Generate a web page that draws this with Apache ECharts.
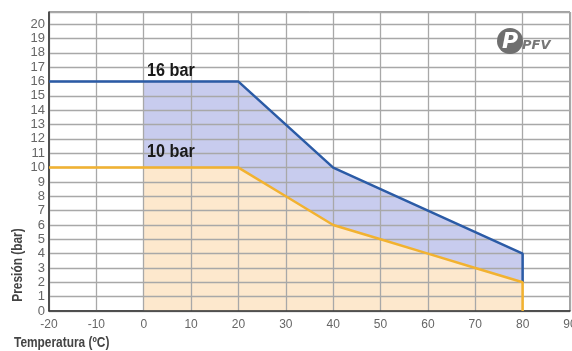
<!DOCTYPE html>
<html><head><meta charset="utf-8">
<script src="https://cdn.jsdelivr.net/npm/echarts@6/dist/echarts.min.js"></script>
<style>html,body{margin:0;padding:0;background:#fff}#c{width:572px;height:351px}</style>
</head><body><div id="c"></div>
<script>
var temps = [-20, 0, 20, 30, 40, 50, 60, 70, 80];
var p16 = [16, 16, 16, 13, 10, 8.5, 7, 5.5, 4];
var p10 = [10, 10, 10, 8, 6, 5, 4, 3, 2];
var xTicks = [-20, -10, 0, 10, 20, 30, 40, 50, 60, 70, 80, 90];
var yTicks = [0,1,2,3,4,5,6,7,8,9,10,11,12,13,14,15,16,17,18,19,20];
var labels = ['16 bar', '10 bar'];

var font = '"Liberation Sans",Arial,sans-serif';
function pts(xs, ys, from) { var r = []; for (var i = from; i < xs.length; i++) r.push([xs[i], ys[i]]); return r; }
var last = temps.length - 1;
var line16 = pts(temps, p16, 0); line16.push([temps[last], p10[last]]);
var line10 = pts(temps, p10, 0); line10.push([temps[last], 0]);
var fill16 = pts(temps, p16, 1);
var fill10 = pts(temps, p10, 1);

var chart = echarts.init(document.getElementById('c'));
chart.setOption({
  animation: false,
  grid: { left: 49, top: 12, right: 2, bottom: 40, show: true, borderColor: '#444', borderWidth: 1,
          outerBoundsMode: 'none', containLabel: false },
  xAxis: {
    type: 'value', min: xTicks[0], max: xTicks[xTicks.length - 1], interval: 10, z: 3,
    axisLine: { onZero: false, lineStyle: { color: '#333', width: 1.5 } },
    axisTick: { show: false },
    splitLine: { lineStyle: { color: '#a8a8a8', width: 1.3 } },
    axisLabel: { color: '#666', fontFamily: font, fontSize: 12, margin: 8, hideOverlap: false }
  },
  yAxis: {
    type: 'value', min: 0, max: 20.85, interval: 1, z: 3,
    axisLine: { show: true, onZero: false, lineStyle: { color: '#333', width: 1.5 } },
    axisTick: { show: false },
    splitLine: { lineStyle: { color: '#a8a8a8', width: 1.3 } },
    axisLabel: { color: '#666', fontFamily: font, fontSize: 13, margin: 4, lineHeight: 11, hideOverlap: false,
      formatter: function (v) { return (yTicks.indexOf(v) >= 0) ? String(v) : ''; } }
  },
  series: [
    { type: 'line', data: fill16, symbol: 'none', z: 1, lineStyle: { width: 0 },
      areaStyle: { color: '#c8ccee', opacity: 1 } },
    { type: 'line', data: fill10, symbol: 'none', z: 1.5, lineStyle: { width: 0 },
      areaStyle: { color: '#fde8cd', opacity: 1 } },
    { type: 'line', data: line16, symbol: 'none', z: 5, lineStyle: { color: '#2b5ba6', width: 2.5 } },
    { type: 'line', data: line10, symbol: 'none', z: 5, lineStyle: { color: '#f2b230', width: 2.5 } }
  ],
  graphic: [
    { type: 'text', x: 147, y: 71, scaleX: 0.9, z: 10, style: { text: labels[0], font: 'bold 18px ' + font, fill: '#1a1a1a', verticalAlign: 'middle' } },
    { type: 'text', x: 147, y: 152, scaleX: 0.9, z: 10, style: { text: labels[1], font: 'bold 18px ' + font, fill: '#1a1a1a', verticalAlign: 'middle' } },
    { type: 'text', x: 18, y: 265, rotation: Math.PI / 2, scaleX: 0.85, z: 10,
      style: { text: 'Presión (bar)', font: 'bold 14px ' + font, fill: '#444', align: 'center', verticalAlign: 'middle' } },
    { type: 'text', x: 14, y: 343, scaleX: 0.85, z: 10,
      style: { text: 'Temperatura (ºC)', font: 'bold 14px ' + font, fill: '#444', align: 'left', verticalAlign: 'middle' } },
    { type: 'circle', shape: { cx: 510, cy: 41, r: 13 }, z: 10, style: { fill: '#6f6f6f' } },
    { type: 'text', x: 510, y: 42, z: 11,
      style: { text: 'P', font: 'italic bold 22px "DejaVu Sans",sans-serif', fill: '#fff', align: 'center', verticalAlign: 'middle' } },
    { type: 'text', x: 522, y: 46, z: 11,
      style: { text: 'PFV', font: 'italic bold 13px "DejaVu Sans",sans-serif', fill: '#777', align: 'left', verticalAlign: 'middle' } }
  ]
});
</script></body></html>
